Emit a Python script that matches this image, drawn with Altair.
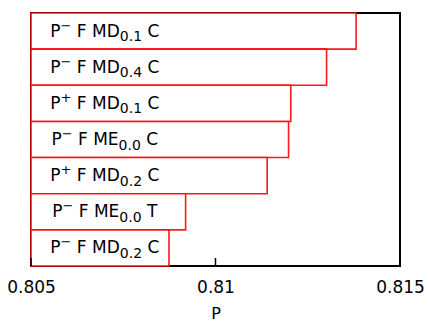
import altair as alt
import pandas as pd

# Configurations, top to bottom: P^sign F method_sub tail
signs = ["−", "−", "+", "−", "+", "−", "−"]
methods = ["MD", "MD", "MD", "ME", "MD", "ME", "MD"]
subs = ["0.1", "0.4", "0.1", "0.0", "0.2", "0.0", "0.2"]
tails = ["C", "C", "C", "C", "C", "T", "C"]
scores = [0.81381, 0.81301, 0.81204, 0.81198, 0.81140, 0.80919, 0.80874]
tick_values = [0.805, 0.81, 0.815]

x_min, x_max = 0.805, 0.815
label_center = 0.807
W, H = 369, 253
MAIN, SUP, SUB = 17, 13, 14

keys = [f"P{s} F {m}{b} {t}" for s, m, b, t in zip(signs, methods, subs, tails)]

# Approximate DejaVu Sans advance widths (em units), used to lay out the
# superscript / subscript pieces of each label side by side.
ADV = {"P": .603, "F": .575, "M": .863, "D": .770, "E": .632, "C": .698,
       "T": .611, " ": .318, ".": .318, "−": .838, "+": .838}
ADV.update({d: .636 for d in "0123456789"})


def width(s, size):
    return sum(ADV[c] for c in s) * size


rows = []
for k, s, m, b, t in zip(keys, signs, methods, subs, tails):
    # (kind, text, font size, leading space in em of the main font)
    pieces = [("p", "P", MAIN, 0), ("sup", s, SUP, 0), ("mid", f"F {m}", MAIN, 1),
              ("sub", b, SUB, 0), ("tail", t, MAIN, 1)]
    total = sum(width(txt, sz) + lead * ADV[" "] * MAIN for _, txt, sz, lead in pieces)
    off = -total / 2
    for kind, txt, sz, lead in pieces:
        off += lead * ADV[" "] * MAIN
        rows.append({"key": k, "kind": kind, "txt": txt, "off": off})
        off += width(txt, sz)
seg = pd.DataFrame(rows)

df = pd.DataFrame({"key": keys, "P": scores})
ticks_df = pd.DataFrame({"t": tick_values})

x_scale = alt.Scale(domain=[x_min, x_max], zero=False, nice=False)
y_enc = alt.Y("key:N", sort=keys, axis=None,
              scale=alt.Scale(paddingInner=0, paddingOuter=0))

bars = alt.Chart(df).mark_bar(
    fill="white", stroke="#ff0000", strokeWidth=1.6, strokeOpacity=0.9
).encode(
    x=alt.X("P:Q", scale=x_scale,
            axis=alt.Axis(title="P", values=tick_values, ticks=False, domain=False,
                          grid=False, labelFontSize=17, labelColor="black",
                          labelFont="DejaVu Sans", labelPadding=13, labelFlush=False,
                          labelExpr="datum.value == 0.81 ? '0.81' : format(datum.value, '.3f')",
                          titleFontSize=16, titleFont="DejaVu Sans",
                          titleFontWeight="normal", titleColor="black",
                          titlePadding=10)),
    x2=alt.datum(x_min),
    y=y_enc,
)


def piece(kind, size, dy):
    return alt.Chart(seg).transform_filter(alt.datum.kind == kind).mark_text(
        align="left", baseline="alphabetic", fontSize=size, dy=dy,
        font="DejaVu Sans", color="black"
    ).encode(
        x=alt.datum(label_center, scale=x_scale),
        xOffset=alt.XOffset("off:Q", scale=None),
        y=y_enc,
        text="txt:N",
    )


texts = [piece("p", MAIN, 5.5), piece("sup", SUP, -1.5), piece("mid", MAIN, 5.5),
         piece("sub", SUB, 10), piece("tail", MAIN, 5.5)]

tick_marks = alt.Chart(ticks_df).mark_rule(color="black", strokeWidth=1.5).encode(
    x=alt.X("t:Q", scale=x_scale),
    y=alt.value(H - 8),
    y2=alt.value(H),
)

chart = alt.layer(bars, *texts, tick_marks).properties(
    width=W, height=H,
    background="white",
    autosize=alt.AutoSizeParams(type="none"),
    padding={"left": 31, "top": 13, "right": 28, "bottom": 59},
).configure_view(stroke="black", strokeWidth=2, fill="white")

chart.save("out.html", embed_options={"renderer": "svg", "actions": False})
